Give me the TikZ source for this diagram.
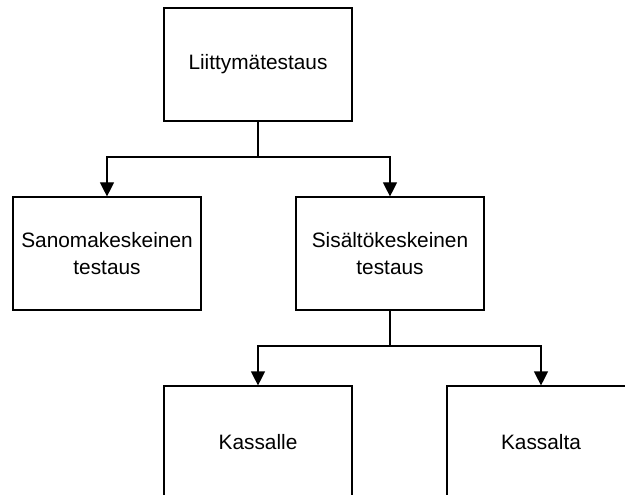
\documentclass[tikz,border=0pt]{standalone}
\usepackage{fontspec}
\setmainfont{Liberation Sans}
\usetikzlibrary{arrows.meta}
\tikzset{>={Triangle[width=8.4pt,length=8.4pt]}}
\tikzset{
  box/.style={draw, line width=0.7pt, minimum width=112.8pt, minimum height=67.8pt,
    align=center, inner sep=0pt, font=\fontsize{12.5}{16.2}\selectfont},
  link/.style={line width=0.7pt}
}

\begin{document}
\begin{tikzpicture}[x=0.6pt,y=-0.6pt]
     \clip (0,0) rectangle (625,495);
     \fill[white] (0,0) rectangle (625,495);
     \node[box] (liit) at (258,64.5) {Liittymätestaus};
     \node[box] (sano) at (107,253.5) {Sanomakeskeinen\\testaus};
     \node[box] (sisa) at (390,253.5) {Sisältökeskeinen\\testaus};
     \node[box] (kle) at (258,442.5) {Kassalle};
     \node[box] (kta) at (541,442.5) {Kassalta};
     \coordinate (j1) at (258,157);
     \coordinate (j2) at (390,346);
     \draw[link] (liit.south) -- (j1);
     \draw[link, ->] (j1) -| (sano.north);
     \draw[link, ->] (j1) -| (sisa.north);
     \draw[link] (sisa.south) -- (j2);
     \draw[link, ->] (j2) -| (kle.north);
     \draw[link, ->] (j2) -| (kta.north);
     \end{tikzpicture}
\end{document}
